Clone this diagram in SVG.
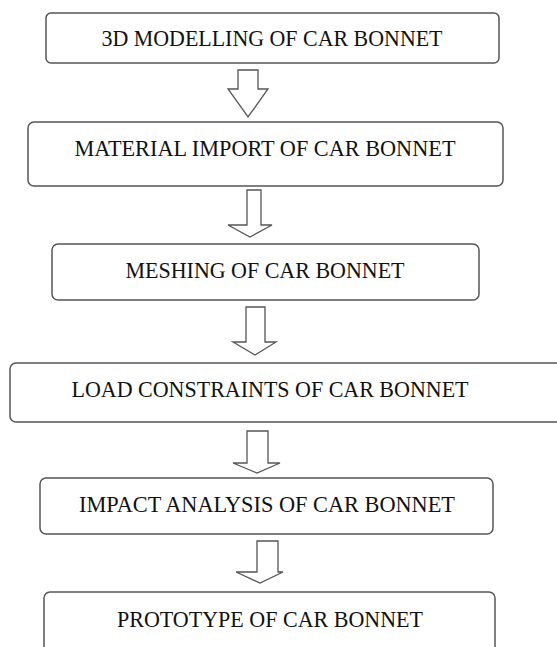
<svg xmlns="http://www.w3.org/2000/svg" width="557" height="647" viewBox="0 0 557 647">
<style>
.box{fill:#fff;stroke:#555;stroke-width:1.5}
.arr{fill:#fff;stroke:#555;stroke-width:1.3;stroke-linejoin:miter}
text{font-family:"Liberation Serif","Times New Roman",serif;font-size:24px;fill:#111;text-anchor:middle}
</style>
<rect width="557" height="647" fill="#fff"/>
<g id="connectors">
<polygon class="arr" points="238,70 258,70 258,89 268,89 248,117 228,89 238,89"/>
<polygon class="arr" points="247,190 261,190 261,225 272,225 250,237 228,225 247,225"/>
<polygon class="arr" points="246,307 265,307 265,342 276,342 255,355 233,342 246,342"/>
<polygon class="arr" points="247,431 268,431 268,463 280,463 257,473 233,463 247,463"/>
<polygon class="arr" points="257,541 278,541 278,572 283,572 260,583 236,572 257,572"/>
</g>
<g id="n1"><rect class="box" x="46" y="13" width="453" height="50" rx="5"/><text x="272" y="46" textLength="341" lengthAdjust="spacingAndGlyphs">3D MODELLING OF CAR BONNET</text></g>
<g id="n2"><rect class="box" x="28" y="122" width="475" height="64" rx="6"/><text x="265" y="156" textLength="381" lengthAdjust="spacingAndGlyphs">MATERIAL IMPORT OF CAR BONNET</text></g>
<g id="n3"><rect class="box" x="52" y="244" width="427" height="56" rx="6"/><text x="265" y="278" textLength="279" lengthAdjust="spacingAndGlyphs">MESHING OF CAR BONNET</text></g>
<g id="n4"><rect class="box" x="10" y="363" width="555" height="59" rx="6"/><text x="270" y="397" textLength="397" lengthAdjust="spacingAndGlyphs">LOAD CONSTRAINTS OF CAR BONNET</text></g>
<g id="n5"><rect class="box" x="40" y="478" width="453" height="56" rx="6"/><text x="267" y="512" textLength="376" lengthAdjust="spacingAndGlyphs">IMPACT ANALYSIS OF CAR BONNET</text></g>
<g id="n6"><rect class="box" x="44" y="592" width="451" height="70" rx="6"/><text x="270" y="627" textLength="306" lengthAdjust="spacingAndGlyphs">PROTOTYPE OF CAR BONNET</text></g>
</svg>
